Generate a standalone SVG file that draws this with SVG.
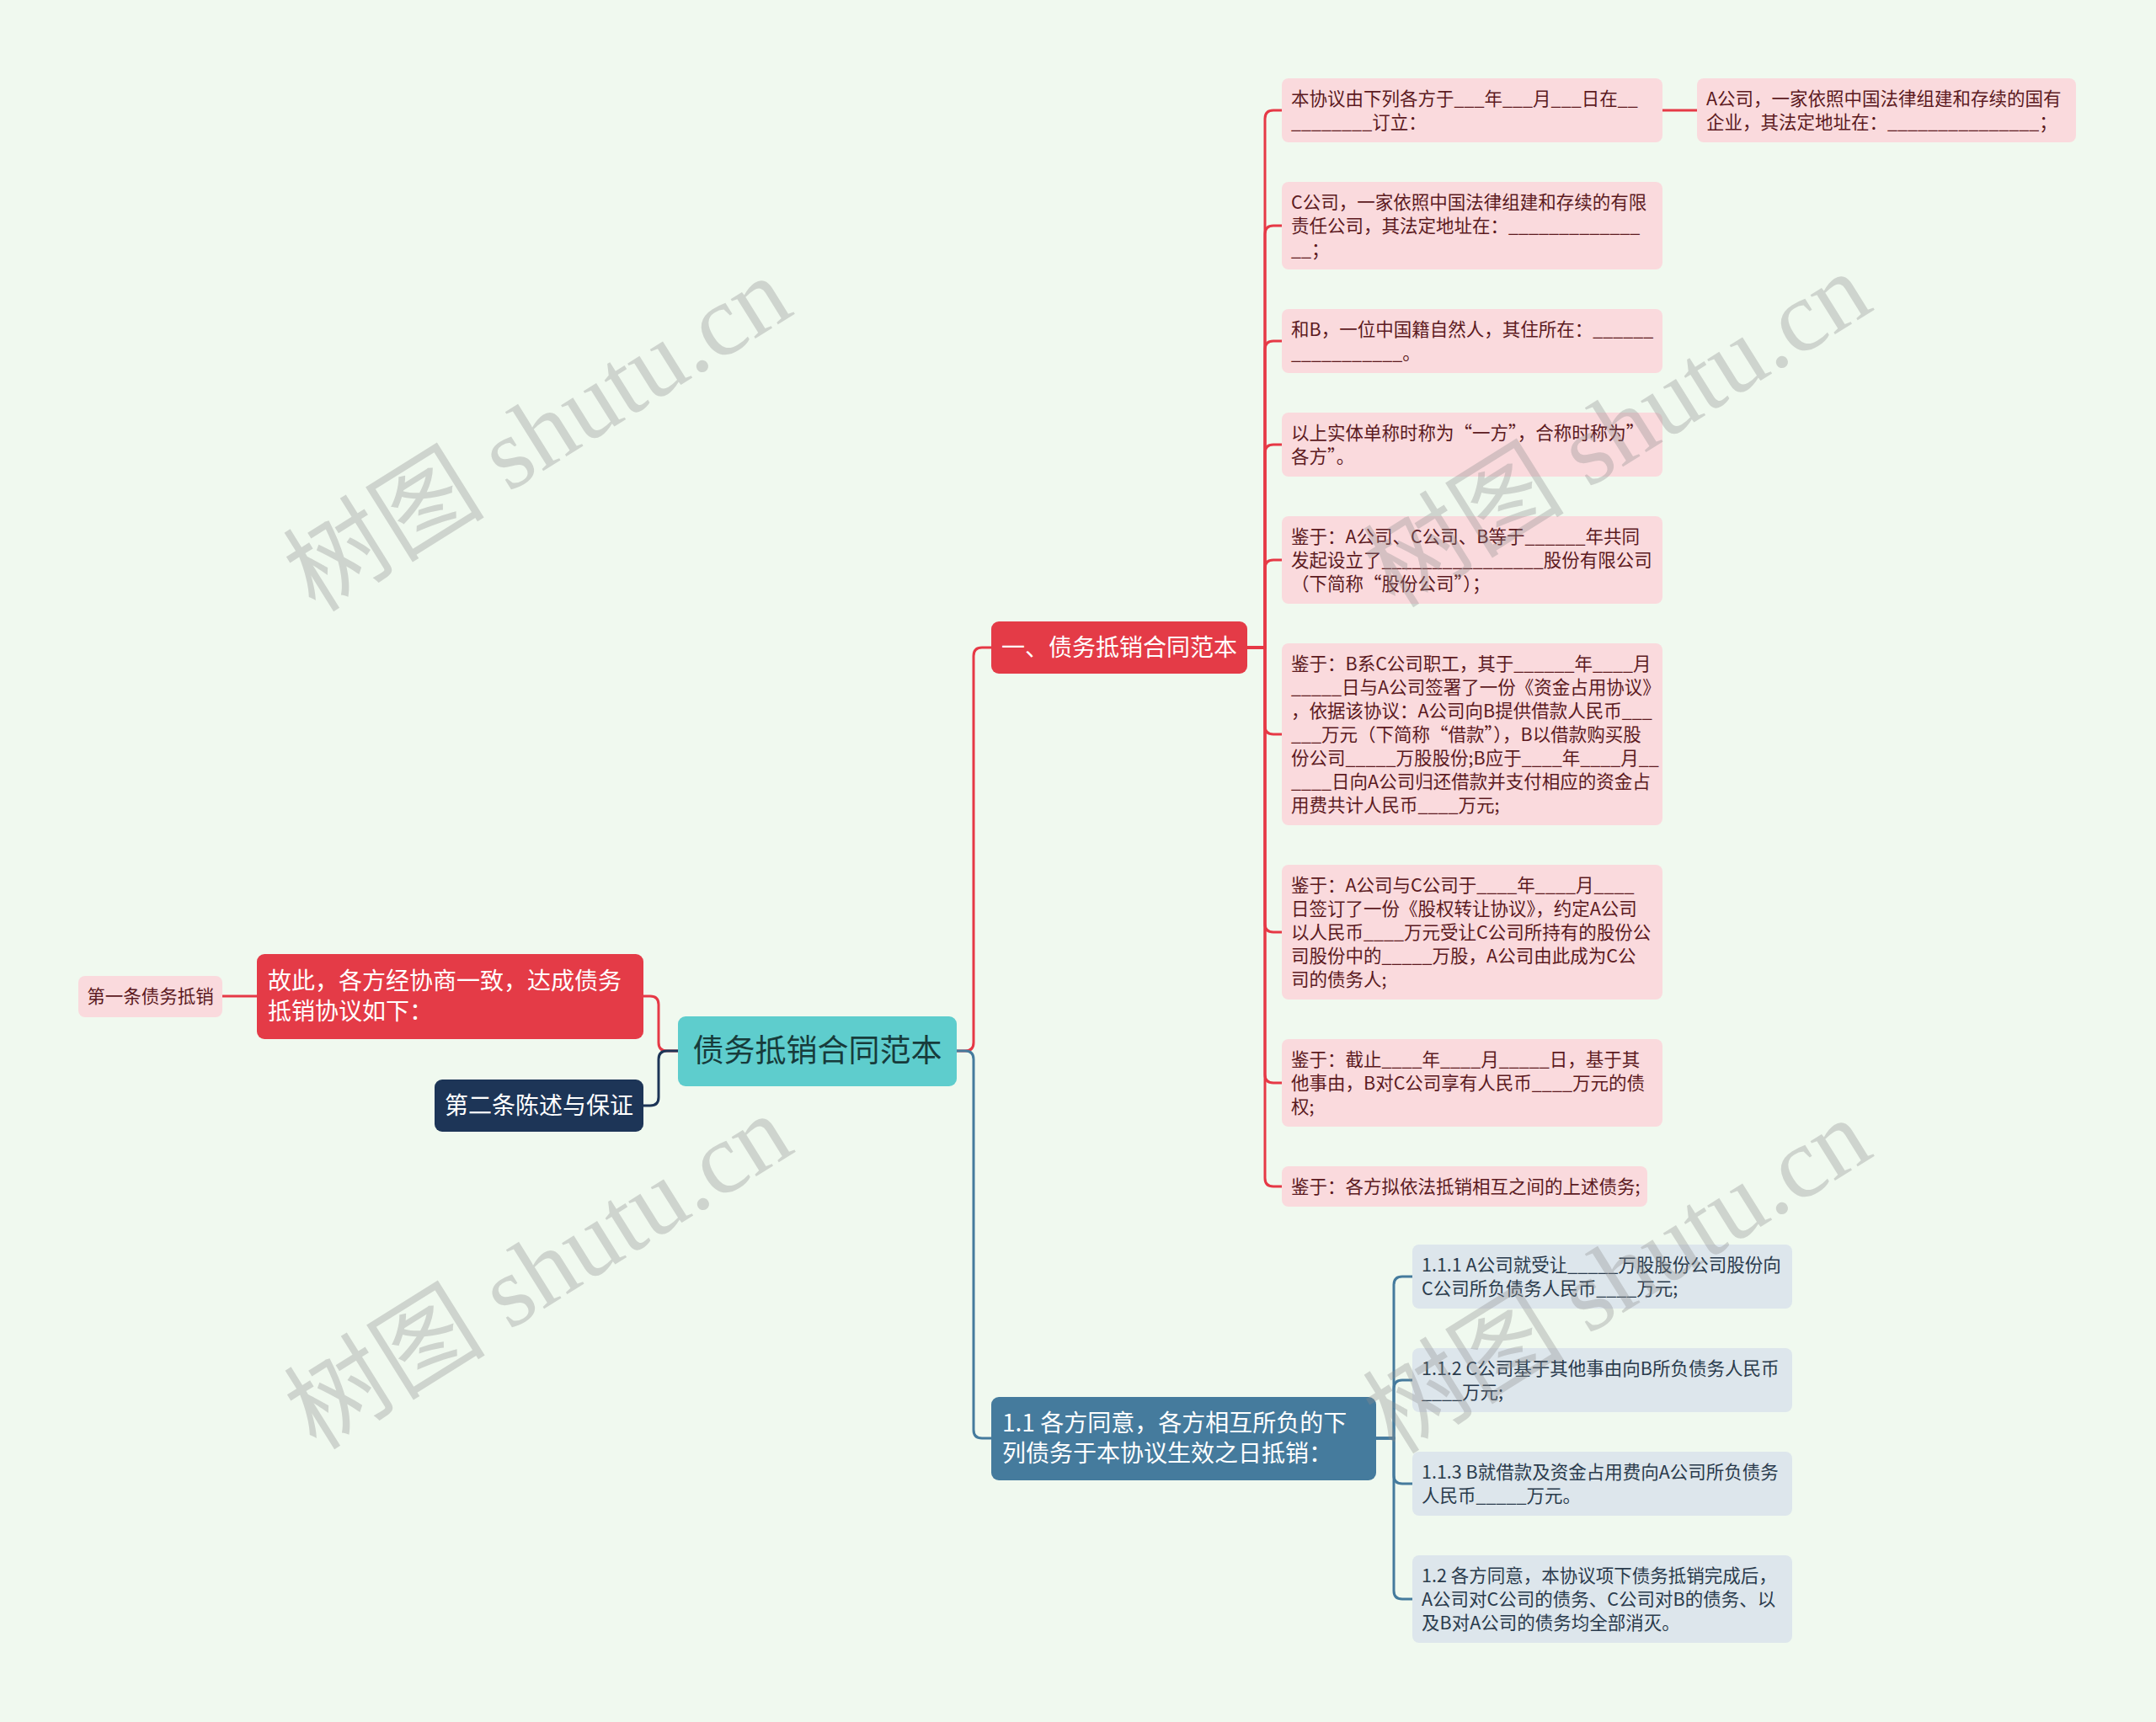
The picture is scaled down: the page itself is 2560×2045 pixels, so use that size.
<svg xmlns="http://www.w3.org/2000/svg" width="2560" height="2045" viewBox="0 0 2560 2045">
<style>
text{font-family:"Noto Sans CJK SC","Noto Sans",sans-serif;}
.rl{fill:#fadadd;}
.bl{fill:#dde6ec;}
.rt{font-size:21.5px;fill:#5c1a1f;}
.bt{font-size:21.5px;fill:#2a3b4c;}
.wt{font-size:28px;fill:#ffffff;}
.cr{fill:none;stroke:#e63946;stroke-width:3;}
.cb{fill:none;stroke:#457b9d;stroke-width:3;}
.cn{fill:none;stroke:#1d3557;stroke-width:3;}
.wm{font-family:"Liberation Serif","Noto Sans CJK SC",serif;font-size:120px;fill:#8c8c8c;opacity:0.33;}
</style>
<rect x="0" y="0" width="2560" height="2045" fill="#f0f9ef"/>

<g id="connectors">
<path class="cr" d="M805 1248 H792 Q782 1248 782 1238 V1193 Q782 1183 772 1183 H764"/>
<path class="cn" d="M805 1248 H792 Q782 1248 782 1258 V1303 Q782 1313 772 1313 H764"/>
<path class="cr" d="M305 1183 H264"/>
<path class="cr" d="M1136 1248 H1146 Q1156 1248 1156 1238 V779 Q1156 769 1166 769 H1177"/>
<path class="cb" d="M1136 1248 H1146 Q1156 1248 1156 1258 V1698 Q1156 1708 1166 1708 H1177"/>
<path class="cr" d="M1481 769 H1502 V141 Q1502 131 1512 131 H1522"/>
<path class="cr" d="M1481 769 H1502 V278 Q1502 268 1512 268 H1522"/>
<path class="cr" d="M1481 769 H1502 V415 Q1502 405 1512 405 H1522"/>
<path class="cr" d="M1481 769 H1502 V538 Q1502 528 1512 528 H1522"/>
<path class="cr" d="M1481 769 H1502 V675 Q1502 665 1512 665 H1522"/>
<path class="cr" d="M1481 769 H1502 V862 Q1502 872 1512 872 H1522"/>
<path class="cr" d="M1481 769 H1502 V1097 Q1502 1107 1512 1107 H1522"/>
<path class="cr" d="M1481 769 H1502 V1276 Q1502 1286 1512 1286 H1522"/>
<path class="cr" d="M1481 769 H1502 V1399 Q1502 1409 1512 1409 H1522"/>
<path class="cr" d="M1974 131 H2015"/>
<path class="cb" d="M1634 1708 H1655 V1526 Q1655 1516 1665 1516 H1677"/>
<path class="cb" d="M1634 1708 H1655 V1649 Q1655 1639 1665 1639 H1677"/>
<path class="cb" d="M1634 1708 H1655 V1752 Q1655 1762 1665 1762 H1677"/>
<path class="cb" d="M1634 1708 H1655 V1889 Q1655 1899 1665 1899 H1677"/>
</g>

<g id="root">
<rect x="805" y="1207" width="331" height="83" rx="9" fill="#5ecdcd"/>
<text x="970.5" y="1261" text-anchor="middle" style="font-size:37px;fill:#173b3b">债务抵销合同范本</text>
</g>

<g id="left-red">
<rect x="305" y="1133" width="459" height="101" rx="9" fill="#e43b47"/>
<text class="wt"><tspan x="318" y="1175">故此，各方经协商一致，达成债务</tspan><tspan x="318" y="1211">抵销协议如下：</tspan></text>
</g>
<g id="left-leaf">
<rect x="93" y="1159" width="171" height="49" rx="8" class="rl"/>
<text x="178.5" y="1191" text-anchor="middle" class="rt">第一条债务抵销</text>
</g>
<g id="left-navy">
<rect x="516" y="1282" width="248" height="62" rx="9" fill="#1d3557"/>
<text x="640" y="1323" text-anchor="middle" class="wt">第二条陈述与保证</text>
</g>

<g id="branch-red">
<rect x="1177" y="738" width="304" height="62" rx="9" fill="#e43b47"/>
<text x="1329" y="779" text-anchor="middle" class="wt">一、债务抵销合同范本</text>
</g>
<g id="branch-blue">
<rect x="1177" y="1659" width="457" height="99" rx="9" fill="#457b9d"/>
<text class="wt"><tspan x="1190" y="1700">1.1 各方同意，各方相互所负的下</tspan><tspan x="1190" y="1736">列债务于本协议生效之日抵销：</tspan></text>
</g>

<g id="r1">
<rect x="1522" y="93" width="452" height="76" rx="8" class="rl"/>
<text class="rt"><tspan x="1533" y="124.5">本协议由下列各方于___年___月___日在__</tspan><tspan x="1533" y="152.5">________订立：</tspan></text>
</g>
<g id="r1a">
<rect x="2015" y="93" width="450" height="76" rx="8" class="rl"/>
<text class="rt"><tspan x="2026" y="124.5">A公司，一家依照中国法律组建和存续的国有</tspan><tspan x="2026" y="152.5">企业，其法定地址在：_______________；</tspan></text>
</g>
<g id="r2">
<rect x="1522" y="216" width="452" height="104" rx="8" class="rl"/>
<text class="rt"><tspan x="1533" y="247.5">C公司，一家依照中国法律组建和存续的有限</tspan><tspan x="1533" y="275.5">责任公司，其法定地址在：_____________</tspan><tspan x="1533" y="303.5">__；</tspan></text>
</g>
<g id="r3">
<rect x="1522" y="367" width="452" height="76" rx="8" class="rl"/>
<text class="rt"><tspan x="1533" y="398.5">和B，一位中国籍自然人，其住所在：______</tspan><tspan x="1533" y="426.5">___________。</tspan></text>
</g>
<g id="r4">
<rect x="1522" y="490" width="452" height="76" rx="8" class="rl"/>
<text class="rt"><tspan x="1533" y="521.5">以上实体单称时称为“一方”，合称时称为”</tspan><tspan x="1533" y="549.5">各方”。</tspan></text>
</g>
<g id="r5">
<rect x="1522" y="613" width="452" height="104" rx="8" class="rl"/>
<text class="rt"><tspan x="1533" y="644.5">鉴于：A公司、C公司、B等于______年共同</tspan><tspan x="1533" y="672.5">发起设立了________________股份有限公司</tspan><tspan x="1533" y="700.5">（下简称“股份公司”）；</tspan></text>
</g>
<g id="r6">
<rect x="1522" y="764" width="452" height="216" rx="8" class="rl"/>
<text class="rt"><tspan x="1533" y="795.5">鉴于：B系C公司职工，其于______年____月</tspan><tspan x="1533" y="823.5">_____日与A公司签署了一份《资金占用协议》</tspan><tspan x="1533" y="851.5">，依据该协议：A公司向B提供借款人民币___</tspan><tspan x="1533" y="879.5">___万元（下简称“借款”），B以借款购买股</tspan><tspan x="1533" y="907.5">份公司_____万股股份;B应于____年____月__</tspan><tspan x="1533" y="935.5">____日向A公司归还借款并支付相应的资金占</tspan><tspan x="1533" y="963.5">用费共计人民币____万元;</tspan></text>
</g>
<g id="r7">
<rect x="1522" y="1027" width="452" height="160" rx="8" class="rl"/>
<text class="rt"><tspan x="1533" y="1058.5">鉴于：A公司与C公司于____年____月____</tspan><tspan x="1533" y="1086.5">日签订了一份《股权转让协议》，约定A公司</tspan><tspan x="1533" y="1114.5">以人民币____万元受让C公司所持有的股份公</tspan><tspan x="1533" y="1142.5">司股份中的_____万股，A公司由此成为C公</tspan><tspan x="1533" y="1170.5">司的债务人;</tspan></text>
</g>
<g id="r8">
<rect x="1522" y="1234" width="452" height="104" rx="8" class="rl"/>
<text class="rt"><tspan x="1533" y="1265.5">鉴于：截止____年____月_____日，基于其</tspan><tspan x="1533" y="1293.5">他事由，B对C公司享有人民币____万元的债</tspan><tspan x="1533" y="1321.5">权;</tspan></text>
</g>
<g id="r9">
<rect x="1522" y="1385" width="434" height="48" rx="8" class="rl"/>
<text class="rt"><tspan x="1533" y="1416.5">鉴于：各方拟依法抵销相互之间的上述债务;</tspan></text>
</g>

<g id="b1">
<rect x="1677" y="1478" width="451" height="76" rx="8" class="bl"/>
<text class="bt"><tspan x="1688" y="1509.5">1.1.1 A公司就受让_____万股股份公司股份向</tspan><tspan x="1688" y="1537.5">C公司所负债务人民币____万元;</tspan></text>
</g>
<g id="b2">
<rect x="1677" y="1601" width="451" height="76" rx="8" class="bl"/>
<text class="bt"><tspan x="1688" y="1632.5">1.1.2 C公司基于其他事由向B所负债务人民币</tspan><tspan x="1688" y="1660.5">____万元;</tspan></text>
</g>
<g id="b3">
<rect x="1677" y="1724" width="451" height="76" rx="8" class="bl"/>
<text class="bt"><tspan x="1688" y="1755.5">1.1.3 B就借款及资金占用费向A公司所负债务</tspan><tspan x="1688" y="1783.5">人民币_____万元。</tspan></text>
</g>
<g id="b4">
<rect x="1677" y="1847" width="451" height="104" rx="8" class="bl"/>
<text class="bt"><tspan x="1688" y="1878.5">1.2 各方同意，本协议项下债务抵销完成后，</tspan><tspan x="1688" y="1906.5">A公司对C公司的债务、C公司对B的债务、以</tspan><tspan x="1688" y="1934.5">及B对A公司的债务均全部消灭。</tspan></text>
</g>

<g id="watermarks">
<text class="wm" text-anchor="middle" transform="translate(660 550) rotate(-32)">树图 shutu.cn</text>
<text class="wm" text-anchor="middle" transform="translate(1942 545) rotate(-32)">树图 shutu.cn</text>
<text class="wm" text-anchor="middle" transform="translate(661 1545) rotate(-32)">树图 shutu.cn</text>
<text class="wm" text-anchor="middle" transform="translate(1942 1550) rotate(-32)">树图 shutu.cn</text>
</g>
</svg>
